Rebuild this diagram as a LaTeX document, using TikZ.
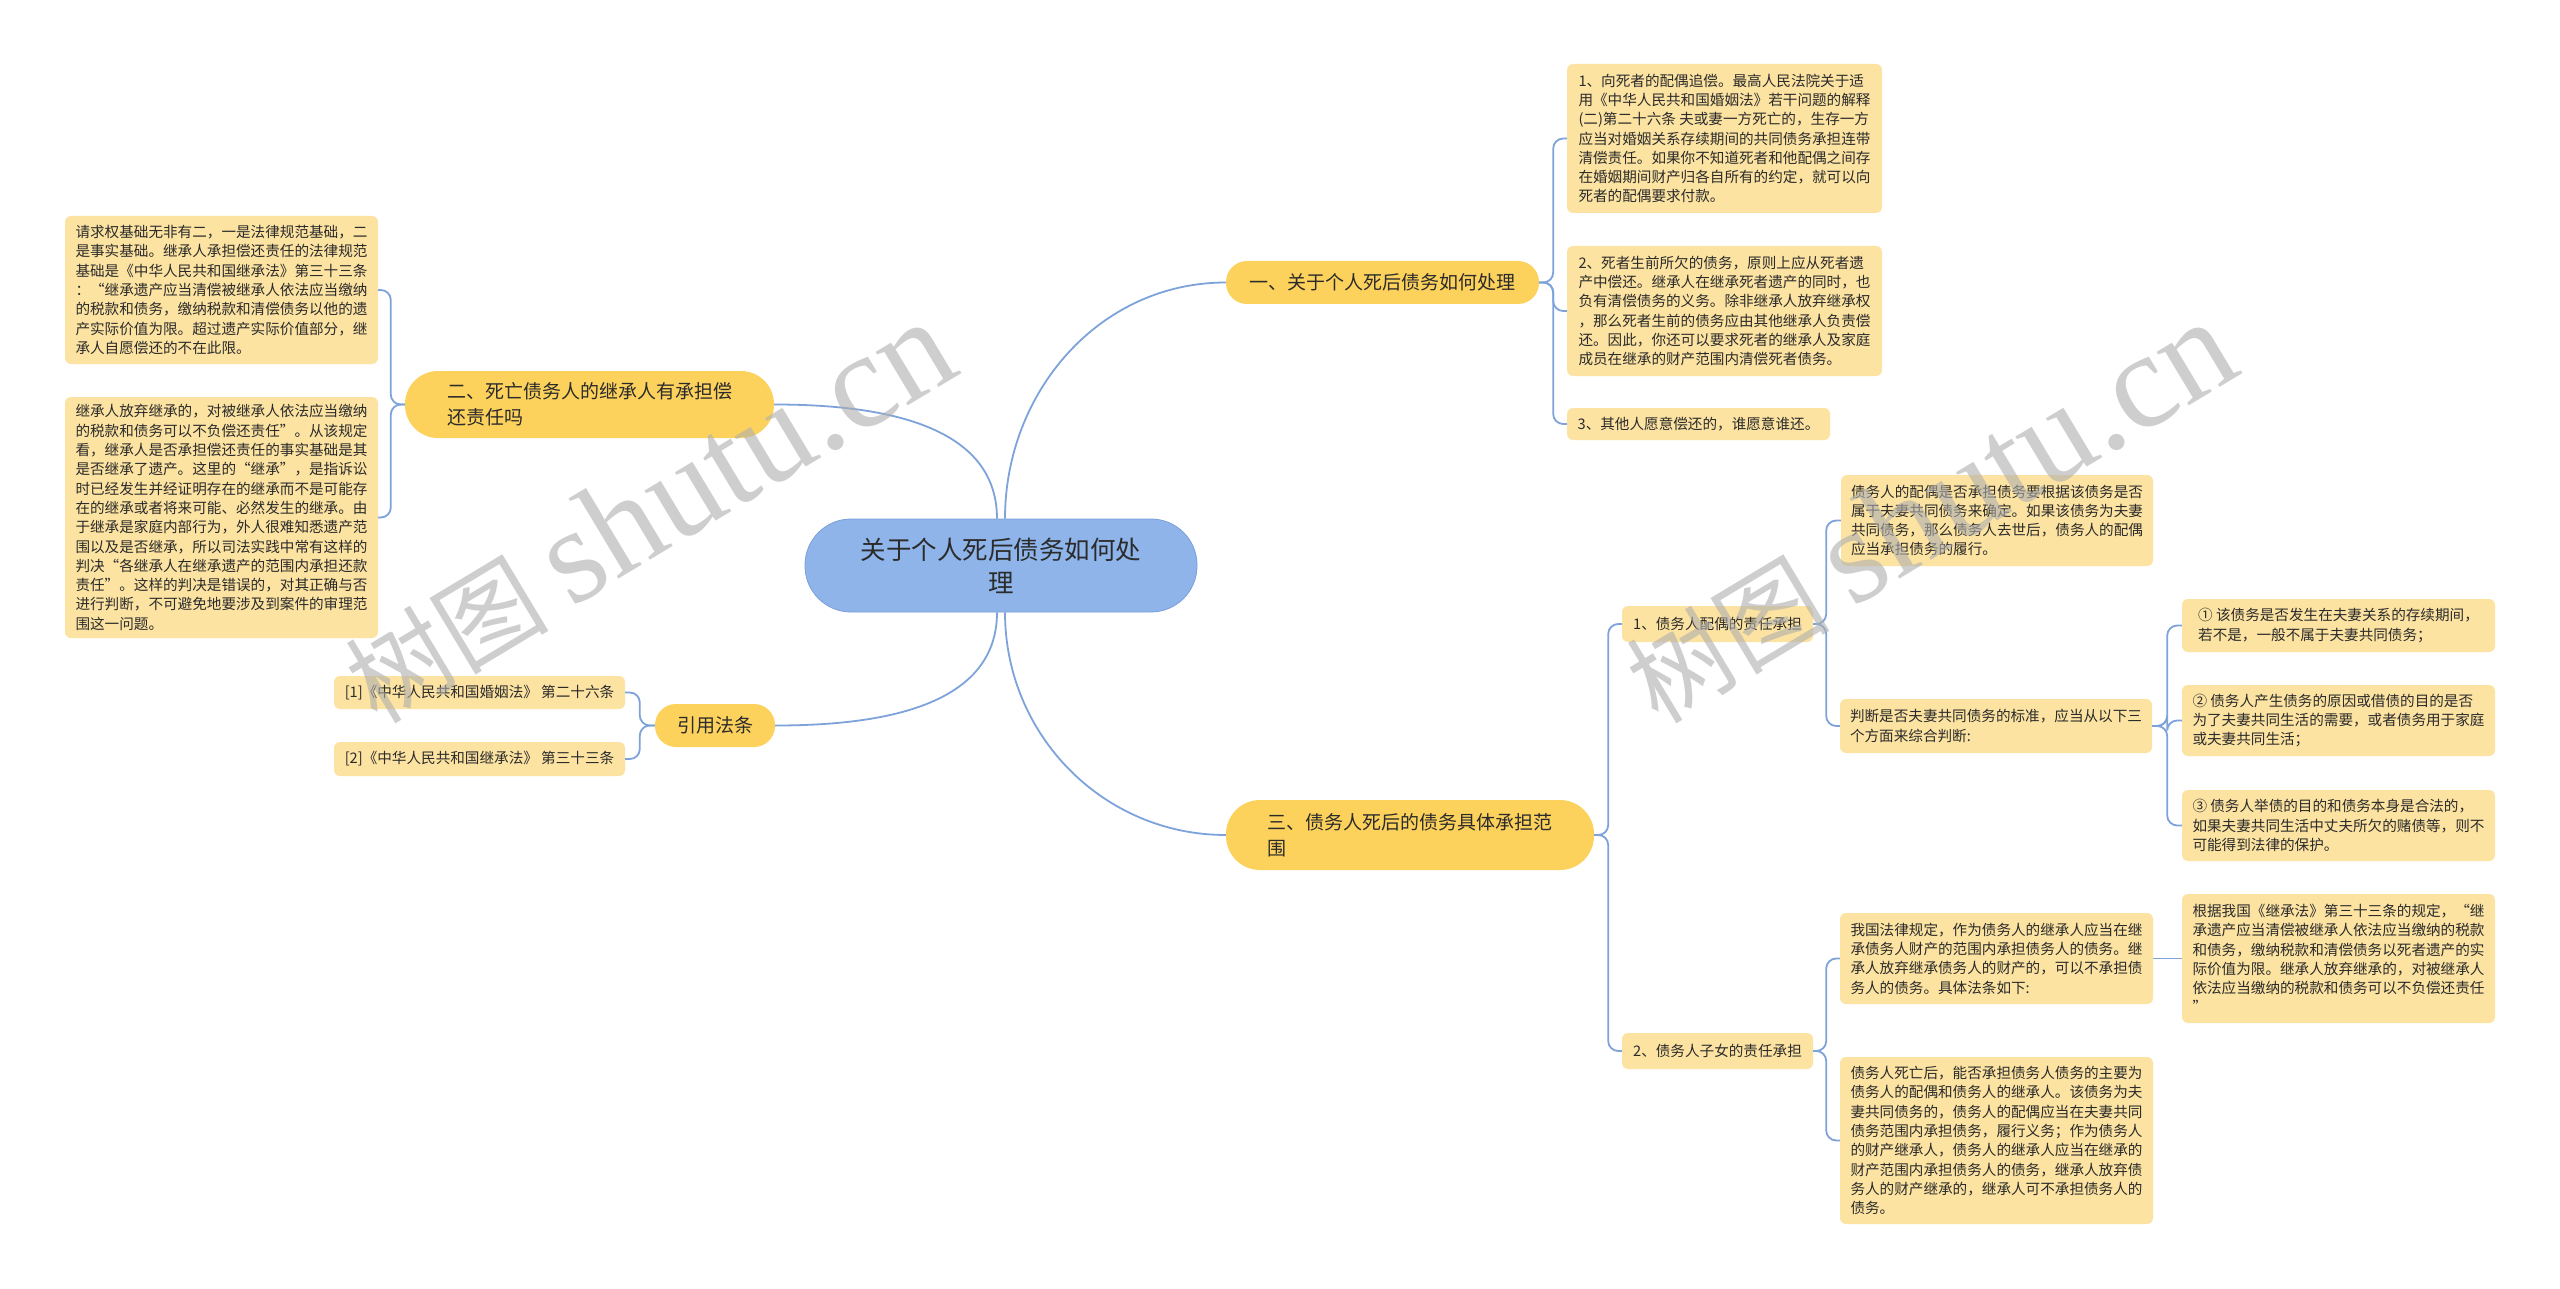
\documentclass[tikz,border=0pt]{standalone}
\usepackage{fontspec}
\setmainfont{Noto Sans CJK SC}
\newfontfamily\wmfont{Liberation Serif}
\definecolor{leafc}{HTML}{FCE3A2}
\definecolor{branchc}{HTML}{FDD25C}
\definecolor{connc}{HTML}{7EA3DB}
\definecolor{centc}{HTML}{8EB4EA}
\definecolor{centd}{HTML}{7A9FDA}
\definecolor{txt}{HTML}{2B2B2B}
\definecolor{wmc}{HTML}{AEAEAE}
\tikzset{
  leaf/.style={fill=leafc, rounded corners=6pt, align=left, text=txt,
    font=\fontsize{14.6}{19.3}\selectfont, inner sep=0pt},
  branch/.style={fill=branchc, align=left, text=txt,
    font=\fontsize{19}{25.5}\selectfont, inner sep=0pt},
  conn/.style={draw=connc, line width=1.8pt, rounded corners=10pt},
  mainconn/.style={draw=connc, line width=1.8pt},
  wm/.style={text=wmc, opacity=0.6, rotate=31}
}
\begin{document}
\begin{tikzpicture}[x=1pt,y=-1pt]
\useasboundingbox[fill=white] (0,0) rectangle (2560,1289);

% center
\node[fill=centc, draw=centd, line width=0.8pt, rounded corners=46pt, align=center, text=txt,
  font=\fontsize{25.5}{33}\selectfont, minimum width=392pt, minimum height=93pt, inner sep=0pt]
  (c) at (1001,565.5) {关于个人死后债务如何处\\理};

% branches
\node[branch, rounded corners=21pt, minimum width=313pt, minimum height=43pt] (b1) at (1382.5,282.5) {一、关于个人死后债务如何处理};
\node[branch, rounded corners=33pt, minimum width=369pt, minimum height=67pt] (b2) at (589.5,404.5) {二、死亡债务人的继承人有承担偿\\还责任吗};
\node[branch, rounded corners=34pt, minimum width=368pt, minimum height=70pt] (b3) at (1410,835) {三、债务人死后的债务具体承担范\\围};
\node[branch, rounded corners=21pt, minimum width=120pt, minimum height=43pt] (rf) at (715,725.5) {引用法条};

% branch 1 leaves
\node[leaf, minimum width=315pt, minimum height=149pt] (l1) at (1724.5,138.5) {1、向死者的配偶追偿。最高人民法院关于适\\用《中华人民共和国婚姻法》若干问题的解释\\(二)第二十六条 夫或妻一方死亡的，生存一方\\应当对婚姻关系存续期间的共同债务承担连带\\清偿责任。如果你不知道死者和他配偶之间存\\在婚姻期间财产归各自所有的约定，就可以向\\死者的配偶要求付款。};
\node[leaf, minimum width=315pt, minimum height=130pt] (l2) at (1724.5,311) {2、死者生前所欠的债务，原则上应从死者遗\\产中偿还。继承人在继承死者遗产的同时，也\\负有清偿债务的义务。除非继承人放弃继承权\\，那么死者生前的债务应由其他继承人负责偿\\还。因此，你还可以要求死者的继承人及家庭\\成员在继承的财产范围内清偿死者债务。};
\node[leaf, minimum width=263pt, minimum height=32pt] (l3) at (1698.5,424) {3、其他人愿意偿还的，谁愿意谁还。};

% branch 2 leaves
\node[leaf, minimum width=313pt, minimum height=148pt] (la) at (221.5,290) {请求权基础无非有二，一是法律规范基础，二\\是事实基础。继承人承担偿还责任的法律规范\\基础是《中华人民共和国继承法》第三十三条\\：“继承遗产应当清偿被继承人依法应当缴纳\\的税款和债务，缴纳税款和清偿债务以他的遗\\产实际价值为限。超过遗产实际价值部分，继\\承人自愿偿还的不在此限。};
\node[leaf, minimum width=313pt, minimum height=241pt] (lb) at (221.5,517.5) {继承人放弃继承的，对被继承人依法应当缴纳\\的税款和债务可以不负偿还责任”。从该规定\\看，继承人是否承担偿还责任的事实基础是其\\是否继承了遗产。这里的“继承”，是指诉讼\\时已经发生并经证明存在的继承而不是可能存\\在的继承或者将来可能、必然发生的继承。由\\于继承是家庭内部行为，外人很难知悉遗产范\\围以及是否继承，所以司法实践中常有这样的\\判决“各继承人在继承遗产的范围内承担还款\\责任”。这样的判决是错误的，对其正确与否\\进行判断，不可避免地要涉及到案件的审理范\\围这一问题。};

% references
\node[leaf, minimum width=291pt, minimum height=33pt] (r1) at (479.5,692.5) {[1]《中华人民共和国婚姻法》 第二十六条};
\node[leaf, minimum width=291pt, minimum height=34pt] (r2) at (479.5,759) {[2]《中华人民共和国继承法》 第三十三条};

% branch 3 children
\node[leaf, minimum width=191pt, minimum height=36pt] (s1) at (1717.5,624) {1、债务人配偶的责任承担};
\node[leaf, minimum width=191pt, minimum height=36pt] (s2) at (1717.5,1051) {2、债务人子女的责任承担};

\node[leaf, minimum width=312pt, minimum height=91pt] (k1) at (1997,520.5) {债务人的配偶是否承担债务要根据该债务是否\\属于夫妻共同债务来确定。如果该债务为夫妻\\共同债务，那么债务人去世后，债务人的配偶\\应当承担债务的履行。};
\node[leaf, minimum width=312pt, minimum height=54pt] (k2) at (1996,726) {判断是否夫妻共同债务的标准，应当从以下三\\个方面来综合判断:};

\node[leaf, minimum width=313pt, minimum height=53pt] (e1) at (2338.5,625.5) {① 该债务是否发生在夫妻关系的存续期间，\\若不是，一般不属于夫妻共同债务；};
\node[leaf, minimum width=313pt, minimum height=71pt] (e2) at (2338.5,720.5) {② 债务人产生债务的原因或借债的目的是否\\为了夫妻共同生活的需要，或者债务用于家庭\\或夫妻共同生活；};
\node[leaf, minimum width=313pt, minimum height=71pt] (e3) at (2338.5,825.5) {③ 债务人举债的目的和债务本身是合法的，\\如果夫妻共同生活中丈夫所欠的赌债等，则不\\可能得到法律的保护。};

\node[leaf, minimum width=313pt, minimum height=91pt] (d1) at (1996.5,958.5) {我国法律规定，作为债务人的继承人应当在继\\承债务人财产的范围内承担债务人的债务。继\\承人放弃继承债务人的财产的，可以不承担债\\务人的债务。具体法条如下:};
\node[leaf, minimum width=313pt, minimum height=167pt] (d2) at (1996.5,1140.5) {债务人死亡后，能否承担债务人债务的主要为\\债务人的配偶和债务人的继承人。该债务为夫\\妻共同债务的，债务人的配偶应当在夫妻共同\\债务范围内承担债务，履行义务；作为债务人\\的财产继承人，债务人的继承人应当在继承的\\财产范围内承担债务人的债务，继承人放弃债\\务人的财产继承的，继承人可不承担债务人的\\债务。};
\node[leaf, minimum width=313pt, minimum height=129pt] (f1) at (2338.5,958.5) {根据我国《继承法》第三十三条的规定，“继\\承遗产应当清偿被继承人依法应当缴纳的税款\\和债务，缴纳税款和清偿债务以死者遗产的实\\际价值为限。继承人放弃继承的，对被继承人\\依法应当缴纳的税款和债务可以不负偿还责任\\”};

% main connectors
\draw[mainconn] ([xshift=-4pt]c.north) to[out=90,in=0] (b2.east);
\draw[mainconn] ([xshift=4pt]c.north) to[out=90,in=180] (b1.west);
\draw[mainconn] ([xshift=-4pt]c.south) to[out=-90,in=0] (rf.east);
\draw[mainconn] ([xshift=4pt]c.south) to[out=-90,in=180] (b3.west);

% bracket connectors
\foreach \t in {l1,l2,l3} \draw[conn] (b1.east) -- ++(14,0) |- (\t.west);
\foreach \t in {la,lb} \draw[conn] (b2.west) -- ++(-14,0) |- (\t.east);
\foreach \t in {r1,r2} \draw[conn] (rf.west) -- ++(-15,0) |- (\t.east);
\foreach \t in {s1,s2} \draw[conn] (b3.east) -- ++(14,0) |- (\t.west);
\foreach \t in {k1,k2} \draw[conn] (s1.east) -- ++(13,0) |- (\t.west);
\foreach \t in {e1,e2,e3} \draw[conn] (k2.east) -- ++(15,0) |- (\t.west);
\foreach \t in {d1,d2} \draw[conn] (s2.east) -- ++(13,0) |- (\t.west);
\draw[conn] (d1.east) -- (f1.west);

% watermarks
\node[wm] (w1) at (648,512) {\fontsize{102}{102}\selectfont 树图 \wmfont\fontsize{136}{136}\selectfont shutu.cn};
\node[wm] (w2) at (1929,512) {\fontsize{102}{102}\selectfont 树图 \wmfont\fontsize{136}{136}\selectfont shutu.cn};
\end{tikzpicture}
\end{document}
